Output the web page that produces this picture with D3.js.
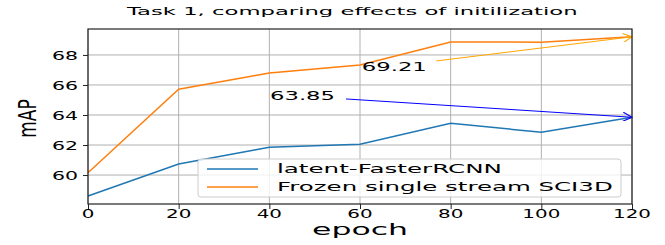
<!DOCTYPE html>
<html>
<head>
<meta charset="utf-8">
<script src="https://cdn.jsdelivr.net/npm/d3@7"></script>
<style>
  body { margin: 0; background: #fff; }
  text { font-family: "DejaVu Sans", sans-serif; fill: #000; }
</style>
</head>
<body>
<svg width="665" height="245"></svg>
<script>
var epochs = [0, 20, 40, 60, 80, 100, 120];
var latentFaster = [58.6, 60.73, 61.85, 62.05, 63.45, 62.85, 63.85];
var frozenSci3d = [60.15, 65.72, 66.8, 67.33, 68.87, 68.85, 69.21];
var seriesNames = ["latent-FasterRCNN", "Frozen single stream SCI3D"];
var seriesColors = ["#1f77b4", "#ff7f0e"];
var xTicks = [0, 20, 40, 60, 80, 100, 120];
var yTicks = [60, 62, 64, 66, 68];

var svg = d3.select('svg');
var margin = {left: 88, right: 33, top: 29, bottom: 41};
var width = +svg.attr('width');
var height = +svg.attr('height');

var x = d3.scaleLinear().domain([0, 120]).range([margin.left, width - margin.right]);
var y = d3.scaleLinear().domain([58.07, 69.73]).range([height - margin.bottom, margin.top]);

// the picture is stretched sideways, so text is scaled in x
function wideText(parent, px, py, str, size, opts) {
  opts = opts || {};
  var t = parent.append('text')
    .attr('font-size', size)
    .attr('text-anchor', opts.anchor || 'start')
    .text(str);
  var sx = opts.sx || 1.73;
  if (opts.width) sx = opts.width / t.node().getComputedTextLength();
  t.attr('transform', 'translate(' + px + ',' + py + ') scale(' + sx + ',1)');
  return t;
}

// grid
svg.append('g').selectAll('line').data(xTicks).enter().append('line')
  .attr('x1', d => x(d)).attr('x2', d => x(d))
  .attr('y1', y.range()[1]).attr('y2', y.range()[0])
  .attr('stroke', '#b0b0b0').attr('stroke-width', 1);
svg.append('g').selectAll('line').data(yTicks).enter().append('line')
  .attr('y1', d => y(d)).attr('y2', d => y(d))
  .attr('x1', x.range()[0]).attr('x2', x.range()[1])
  .attr('stroke', '#b0b0b0').attr('stroke-width', 1);

// lines
var line = d3.line().x((d, i) => x(epochs[i])).y(d => y(d));
[latentFaster, frozenSci3d].forEach(function(s, i) {
  svg.append('path').datum(s)
    .attr('d', line)
    .attr('fill', 'none')
    .attr('stroke', seriesColors[i])
    .attr('stroke-width', 1.5);
});

// annotations
svg.append('defs').selectAll('marker').data([['arrB', 'blue'], ['arrO', 'orange']]).enter()
  .append('marker')
  .attr('id', d => d[0])
  .attr('viewBox', '0 0 10 10').attr('refX', 10).attr('refY', 5)
  .attr('markerWidth', 11).attr('markerHeight', 9)
  .attr('markerUnits', 'userSpaceOnUse')
  .attr('orient', 'auto')
  .append('path').attr('d', 'M0,0 L10,5 L0,10')
  .attr('fill', 'none').attr('stroke', d => d[1]).attr('stroke-width', 1.2);

var annots = [
  {label: '69.21', tx: 60.4, ty: 66.93, sx: 76.8, sy: 67.6, value: frozenSci3d[6], color: 'orange', marker: 'arrO'},
  {label: '63.85', tx: 40.15, ty: 64.97, sx: 56.9, sy: 65.07, value: latentFaster[6], color: 'blue', marker: 'arrB'}
];
annots.forEach(function(a) {
  svg.append('line')
    .attr('x1', x(a.sx)).attr('y1', y(a.sy))
    .attr('x2', x(120)).attr('y2', y(a.value))
    .attr('stroke', a.color).attr('stroke-width', 1)
    .attr('marker-end', 'url(#' + a.marker + ')');
  wideText(svg, x(a.tx), y(a.ty), a.label, 12.5, {width: 65});
});

// frame
svg.append('rect')
  .attr('x', x.range()[0]).attr('y', y.range()[1])
  .attr('width', x.range()[1] - x.range()[0])
  .attr('height', y.range()[0] - y.range()[1])
  .attr('fill', 'none').attr('stroke', '#222').attr('stroke-width', 1.2);

// axes (tick marks), labels drawn stretched
var xAxis = svg.append('g')
  .attr('transform', 'translate(0,' + y.range()[0] + ')')
  .call(d3.axisBottom(x).tickValues(xTicks).tickSize(5).tickFormat(''));
var yAxis = svg.append('g')
  .attr('transform', 'translate(' + x.range()[0] + ',0)')
  .call(d3.axisLeft(y).tickValues(yTicks).tickSize(5).tickFormat(''));
[xAxis, yAxis].forEach(function(g) {
  g.select('.domain').remove();
  g.selectAll('line').attr('stroke', '#222');
});
xTicks.forEach(function(t) {
  wideText(svg, x(t), 218, String(t), 11.5, {anchor: 'middle'});
});
yTicks.forEach(function(t) {
  wideText(svg, 78, y(t) + 5, String(t), 11.5, {anchor: 'end', sx: 1.78});
});

// title & labels
wideText(svg, 127, 14.5, 'Task 1, comparing effects of initilization', 11, {width: 451});
wideText(svg, 360, 234.5, 'epoch', 16, {anchor: 'middle', width: 96});
svg.append('text')
  .attr('transform', 'translate(36,' + ((y.range()[0] + y.range()[1]) / 2 + 2) + ') scale(1.5,1) rotate(-90)')
  .attr('text-anchor', 'middle').attr('font-size', 17)
  .text('mAP');

// legend
var lg = svg.append('g').attr('transform', 'translate(198,159)');
lg.append('rect').attr('width', 423).attr('height', 38).attr('rx', 3)
  .attr('fill', 'rgba(255,255,255,0.8)').attr('stroke', '#ccc');
seriesNames.forEach(function(n, i) {
  var yy = 10 + i * 18;
  lg.append('line').attr('x1', 9).attr('x2', 60).attr('y1', yy).attr('y2', yy)
    .attr('stroke', seriesColors[i]).attr('stroke-width', 1.5);
});
wideText(lg, 79, 14, seriesNames[0], 13, {width: 225});
wideText(lg, 79, 32, seriesNames[1], 13, {width: 336});
</script>
</body>
</html>
